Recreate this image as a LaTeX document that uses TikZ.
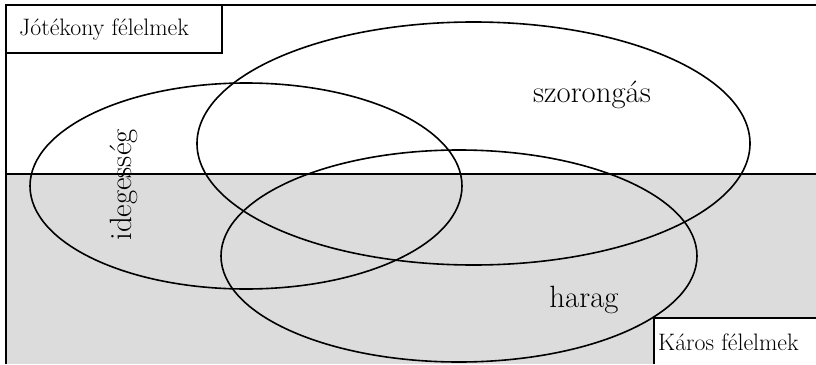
\documentclass[tikz,border=0pt]{standalone}
\usepackage{tikz}
\definecolor{greyzone}{RGB}{220,220,220}
\begin{document}
\begin{tikzpicture}[x=1pt,y=-1pt,
  edge/.style={line width=1.8pt,black},
  oval/.style={line width=1.6pt,black},
  boxlabel/.style={font=\fontsize{23.8}{26}\selectfont,inner sep=0pt,anchor=west},
  biglabel/.style={font=\fontsize{30.8}{34}\selectfont,inner sep=0pt}]
\useasboundingbox (0,0) rectangle (816,364);
% grey harmful zone
\fill[greyzone] (6,174) rectangle (816,364);
% frame lines
\draw[edge] (6,5) -- (816,5);
\draw[edge] (6,5) -- (6,364);
\draw[edge] (6,174) -- (816,174);
% top-left label box
\draw[edge,fill=white] (6,5) rectangle (222,53);
\node[boxlabel] (jot) at (19,30) {Jótékony félelmek};
% ellipses
\draw[oval] (246,186) ellipse [x radius=216, y radius=103];
\draw[oval] (473.5,143.5) ellipse [x radius=276.5, y radius=121.5];
\draw[oval] (459,256) ellipse [x radius=238, y radius=106];
% labels
\node[biglabel,rotate=90] (ideg) at (124,185) {idegesség};
\node[biglabel] (szor) at (592,95) {szorongás};
\node[biglabel] (harag) at (584,300) {harag};
% bottom-right label box
\fill[white] (654,318) rectangle (816,364);
\draw[edge] (654,364) -- (654,318) -- (816,318);
\node[boxlabel] (karos) at (658,342) {Káros félelmek};
\end{tikzpicture}
\end{document}
